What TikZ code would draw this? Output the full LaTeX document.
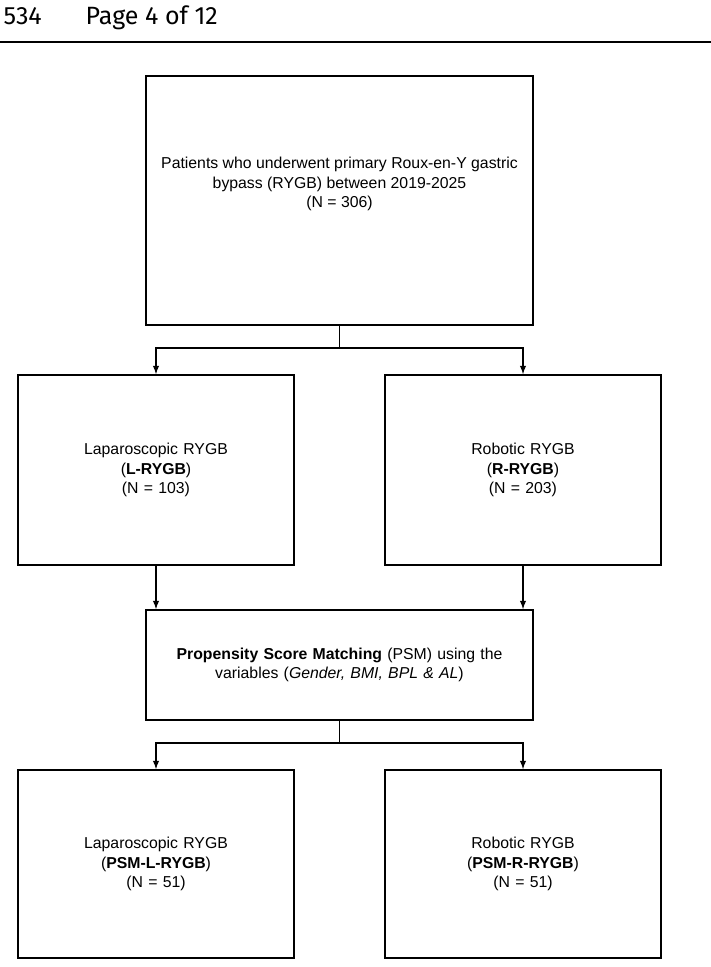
\documentclass[tikz,border=0pt]{standalone}
\usepackage{fontspec}
\setmainfont{Liberation Sans}
\newfontfamily\headfont{Fira Sans}
\usetikzlibrary{positioning}

\begin{document}
\begin{tikzpicture}[
        x=1pt, y=-1pt,
        thick,
        box/.style={rectangle, draw, line width=1.8pt, align=center, inner sep=0pt, font=\fontsize{15.8}{19.5}\selectfont},
        wide/.style={box, minimum width=387pt, text width=380pt},
        side/.style={box, minimum width=276pt, minimum height=190pt, text width=265pt},
        arrow/.style={->, >=latex, line width=1.8pt},
        link/.style={line width=1.8pt}
    ]
        \useasboundingbox (0,0) rectangle (711,967);

        % Header
        \node[anchor=west, font=\headfont\fontsize{25}{28}\selectfont] (head) at (0,18) {534\hspace{44pt}Page 4 of 12};
        \draw[line width=2.4pt] (0,42) -- (711,42);

        % Cohort
        \node[wide, minimum height=249pt] (cohort) at (339.5,200.5) {};
        \node[align=center, inner sep=0pt, font=\fontsize{15.8}{19.5}\selectfont] (cohorttext) at (339.5,184) {Patients who underwent primary Roux-en-Y gastric\\ bypass (RYGB) between 2019-2025\\ (N = 306)};

        % Groups
        \node[side] (lap) at (156,470) {Laparoscopic RYGB\\ (\textbf{L-RYGB})\\ (N = 103)};
        \node[side] (rob) at (523,470) {Robotic RYGB\\ (\textbf{R-RYGB})\\ (N = 203)};

        % Matching
        \node[wide, minimum height=110pt] (psm) at (339.5,665) {\textbf{Propensity Score Matching} (PSM) using the\\ variables (\textit{Gender, BMI, BPL \& AL})};

        % Matched groups
        \node[side, minimum height=188pt] (psml) at (156,864) {Laparoscopic RYGB\\ (\textbf{PSM-L-RYGB})\\ (N = 51)};
        \node[side, minimum height=188pt] (psmr) at (523,864) {Robotic RYGB\\ (\textbf{PSM-R-RYGB})\\ (N = 51)};

        % Connectors
        \coordinate (split1) at (339.5,348);
        \coordinate (split2) at (339.5,743);
        \draw[link] (cohort.south) -- (split1);
        \draw[arrow] (split1) -| (lap.north);
        \draw[arrow] (split1) -| (rob.north);
        \draw[arrow] (lap.south) -- (lap.south |- psm.north);
        \draw[arrow] (rob.south) -- (rob.south |- psm.north);
        \draw[link] (psm.south) -- (split2);
        \draw[arrow] (split2) -| (psml.north);
        \draw[arrow] (split2) -| (psmr.north);
\end{tikzpicture}
\end{document}
